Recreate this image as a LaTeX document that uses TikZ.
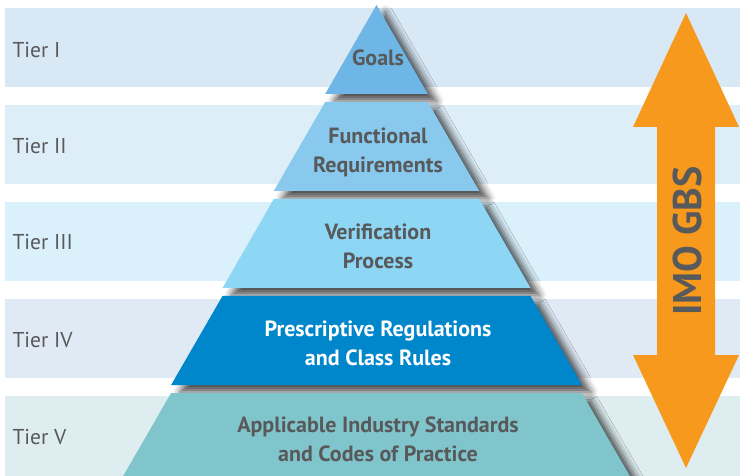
\documentclass[tikz,border=0pt]{standalone}
\usepackage{fontspec}
\setmainfont{PT Sans}
\usetikzlibrary{shadows.blur}
% band and tier colours
\definecolor{bandI}{HTML}{D8E8F5}
\definecolor{bandII}{HTML}{DEEEF8}
\definecolor{bandIII}{HTML}{DAF0FB}
\definecolor{bandIV}{HTML}{DFEAF4}
\definecolor{bandV}{HTML}{DDEDF0}
\definecolor{tierI}{HTML}{6DB6E5}
\definecolor{tierII}{HTML}{88C9ED}
\definecolor{tierIII}{HTML}{8DD7F5}
\definecolor{tierIV}{HTML}{0087CB}
\definecolor{tierV}{HTML}{80C5CC}
\definecolor{labelgray}{HTML}{58595B}
\definecolor{gbsorange}{HTML}{F7991C}
% one slice of the pyramid: top y, bottom y, top half width, bottom half width, colour
\newcommand{\pyramidtier}[5]{
    \fill[#5, blur shadow={shadow xshift=9pt, shadow yshift=-7pt, shadow blur radius=7pt, shadow opacity=70}]
        (376.5-#3, #1) -- (376.5+#3, #1) -- (376.5+#4, #2) -- (376.5-#4, #2) -- cycle;
}
\tikzset{
    tiername/.style={anchor=west, text=labelgray, font=\fontsize{21.5}{24}\selectfont},
    tiertext/.style={align=center, text=labelgray, font=\bfseries\fontsize{22}{29}\selectfont}
}

\begin{document}
\begin{tikzpicture}[x=1pt, y=-1pt]
        \useasboundingbox (0, 0) rectangle (740, 476);
        % draw the five bands behind the pyramid
        \fill[bandI] (5, 8) rectangle (740, 87);
        \fill[bandII] (5, 105) rectangle (740, 184);
        \fill[bandIII] (5, 202) rectangle (740, 281);
        \fill[bandIV] (5, 299) rectangle (740, 378);
        \fill[bandV] (5, 396) rectangle (740, 480);
        % tier names on the left
        \node[tiername] (nameI) at (9, 50) {Tier I};
        \node[tiername] (nameII) at (9, 146) {Tier II};
        \node[tiername] (nameIII) at (9, 242) {Tier III};
        \node[tiername] (nameIV) at (9, 340) {Tier IV};
        \node[tiername] (nameV) at (9, 437) {Tier V};
        % draw the pyramid slices, top one first
        \pyramidtier{5}{94}{0}{51.3}{tierI}
        \pyramidtier{102}{191}{51.3}{102.7}{tierII}
        \pyramidtier{199}{288}{102.7}{154}{tierIII}
        \pyramidtier{296}{385}{154}{205.4}{tierIV}
        \pyramidtier{393}{490}{205.4}{261.4}{tierV}
        % texts of the slices
        \node[tiertext] (goals) at (378, 58) {Goals};
        \node[tiertext] (functional) at (378, 152) {Functional\\Requirements};
        \node[tiertext] (verification) at (378, 246) {Verification\\Process};
        \node[tiertext, text=white] (prescriptive) at (378, 343) {Prescriptive Regulations\\and Class Rules};
        \node[tiertext] (standards) at (378, 439) {Applicable Industry Standards\\and Codes of Practice};
        % draw the double arrow of IMO GBS
        \fill[gbsorange] (686, 13) -- (739, 127) -- (715, 127) -- (715, 355) -- (739, 355)
            -- (686, 468) -- (633, 355) -- (657, 355) -- (657, 127) -- (633, 127) -- cycle;
        \node[rotate=90, text=labelgray, font=\bfseries\fontsize{40}{44}\selectfont] (gbs) at (687, 241) {IMO GBS};
    \end{tikzpicture}
\end{document}
